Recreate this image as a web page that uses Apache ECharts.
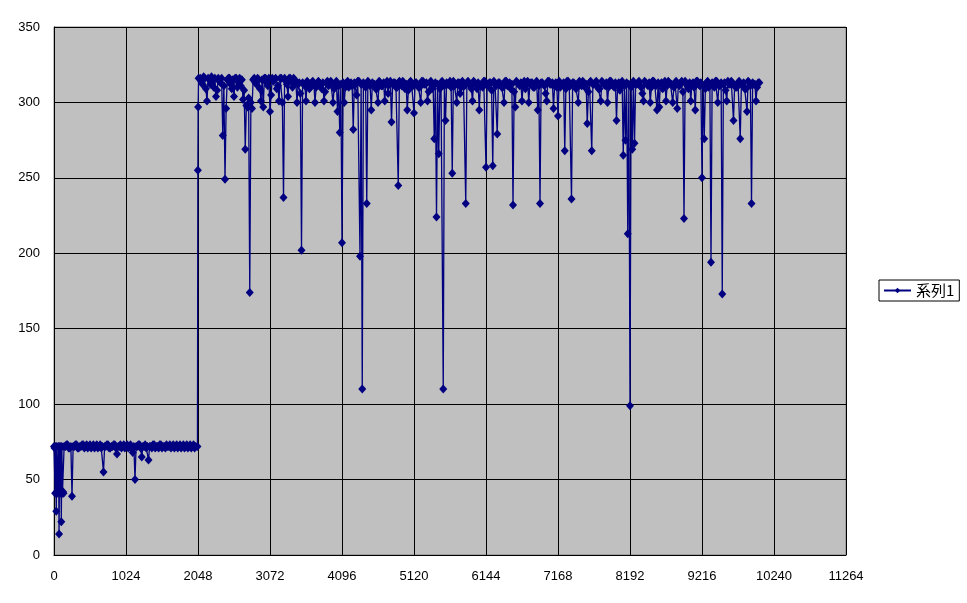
<!DOCTYPE html>
<html>
<head>
<meta charset="utf-8">
<script src="https://cdn.jsdelivr.net/npm/echarts@6/dist/echarts.min.js"></script>
<style>
  html, body { margin: 0; padding: 0; background: #ffffff; }
  #chart { width: 967px; height: 603px; }
</style>
</head>
<body>
<div id="chart"></div>
<script>
// ---- data ----
const seriesName = '系列1';
const xMax = 11264;
const xInterval = 1024;
const yMax = 350;
const yInterval = 50;

// start-up cluster (explicit sample numbers)
const startupX = [0, 8, 16, 24, 32, 40, 48, 56, 64, 72, 80, 88, 96, 104, 112, 120, 128, 136, 144];
const startupY = [72, 71, 41, 72, 29, 72, 41, 42, 72, 14, 72, 41, 72, 22, 72, 41, 42, 41, 72];

// idle phase, sampled every 32 samples from sample 160, with a mid-sample 16 later
const sampleStep = 32;
const midOffset = 16;
const idleStart = 160;
const idleY = [
  72, 73, 71, 39, 72, 73, 71, 72, 73, 72,
  71, 73, 72, 71, 73, 72, 71, 55, 72, 73,
  71, 72, 73, 67, 72, 71, 73, 72, 71, 73,
  68, 50, 72, 73, 65, 72, 71, 63, 72, 73,
  71, 72, 73, 71, 72, 73, 72, 71, 73, 72,
  71, 73, 72, 71, 73, 72, 71, 73, 72
];
const idleMid = [
  73, 71, 72, 72, 73, 71, 72, 73, 71, 73,
  72, 71, 73, 72, 71, 73, 72, 72, 73, 71,
  72, 73, 71, 72, 73, 72, 71, 73, 72, 71,
  72, 72, 73, 71, 72, 73, 72, 72, 71, 73,
  72, 71, 73, 72, 71, 72, 73, 72, 71, 73,
  72, 71, 73, 72, 71, 73, 72, 71
];

// step up
const jumpX = [2040, 2046, 2050, 2056];
const jumpY = [72, 255, 297, 316];

// busy phase, sampled every 32 samples from sample 2080, with a mid-sample 16 later
const busyStart = 2080;
const phase2Y = [
  316, 312, 316, 301, 315, 317, 310, 304, 316, 313,
  278, 249, 315, 316, 309, 304, 316, 314, 311, 302,
  269, 297, 174, 296, 316, 312, 315, 301, 297, 316,
  311, 294, 316, 315, 309, 301, 316, 237, 314, 304,
  316, 310, 315
];
const phase2Mid = [
  314, 317, 309, 316, 312, 315, 316, 308, 314, 316,
  311, 296, 316, 312, 315, 316, 310, 316, 315, 308,
  298, 303, 300, 315, 313, 316, 309, 315, 316, 313,
  316, 305, 314, 316, 311, 316, 300, 316, 312, 316,
  314, 316, 313
];
const phase3Y = [
  300, 313, 202, 312, 301, 313, 310,
  314, 300, 312, 313, 309, 301, 313, 311, 314, 300,
  312, 294, 280, 207, 300, 313, 310, 313, 282, 312,
  314, 198, 110, 312, 233, 313, 295, 312, 309, 300,
  313, 311, 301, 314, 312, 287, 313, 310, 245, 312,
  314, 309, 295, 313, 311, 293, 313, 310, 300, 314,
  312, 301, 313, 309, 276, 224, 266, 313, 110, 288,
  312, 314, 253, 311, 300, 313, 310, 312, 233, 314,
  311, 301, 313, 309, 295, 312, 314, 257, 311, 313,
  258, 312, 279, 313, 310, 300, 314, 312, 309, 232,
  297, 313, 311, 301, 314, 312, 300, 313, 310, 312,
  295, 233, 313, 311, 301, 314, 312, 296, 313, 291,
  310, 312, 268, 314, 311, 236, 313, 309, 300, 312,
  314, 310, 286, 313, 268, 312, 314, 309, 301, 313,
  311, 300, 314, 312, 310, 288, 313, 311, 265, 275,
  213, 99, 269, 273, 312, 314, 310, 301, 313, 311,
  300, 314, 312, 295, 297, 313, 310, 301, 314, 312,
  300, 313, 296, 311, 314, 223, 312, 309, 301, 313,
  295, 314, 311, 250, 276, 313, 310, 194, 312, 314,
  300, 311, 173, 313, 301, 312, 314, 288, 310, 313,
  276, 312, 309, 294, 313, 233, 312, 301, 313
];
const phase3Mid = [
  312, 306, 313, 311, 314, 309, 313, 312, 310, 314,
  311, 313, 307, 314, 312, 313, 309, 314, 311, 312,
  313, 310, 314, 312, 311, 313, 305, 314, 312, 313,
  310, 314, 311, 313, 312, 309, 314, 311, 313, 312,
  306, 314, 312, 313, 310, 314, 311, 313, 312, 308,
  314, 311, 313, 312, 310, 314, 312, 313, 307, 314,
  311, 313, 312, 309, 314, 311, 313, 312, 310, 314,
  312, 313, 306, 314, 311, 313, 312, 309, 314, 312,
  313, 311, 310, 314, 312, 313, 308, 314, 311, 313,
  312, 310, 314, 311, 313, 312, 307, 314, 312, 313,
  311, 309, 314, 312, 313, 310, 314, 311, 313, 312,
  306, 314, 312, 313, 311, 310, 314, 312, 313, 309,
  314, 311, 313, 312, 310, 314, 311, 313, 312, 307,
  314, 312, 313, 311, 309, 314, 312, 313, 310, 314,
  311, 313, 312, 308, 314, 311, 313, 312, 310, 314,
  312, 313, 311, 306, 314, 312, 313, 310, 314, 311,
  313, 312, 309, 314, 311, 313, 312, 310, 314, 312,
  313, 307, 314, 311, 313, 312, 310, 314, 312, 313,
  311, 309, 314, 312, 313, 310, 314, 311, 313, 312,
  308, 314, 312, 313, 311, 310, 314, 312, 313, 309,
  314, 311, 313, 312, 310, 313
];

// ---- build series data ----
const points = [];
startupX.forEach((x, i) => points.push([x, startupY[i]]));
idleY.forEach((y, i) => {
  const x = idleStart + i * sampleStep;
  points.push([x, y]);
  if (i < idleMid.length) points.push([x + midOffset, idleMid[i]]);
});
jumpX.forEach((x, i) => points.push([x, jumpY[i]]));
const busyY = phase2Y.concat(phase3Y);
const busyMid = phase2Mid.concat(phase3Mid);
busyY.forEach((y, i) => {
  const x = busyStart + i * sampleStep;
  points.push([x, y]);
  if (i < busyMid.length) points.push([x + midOffset, busyMid[i]]);
});

const navy = '#000080';
const labelFont = 'Liberation Sans';

const chart = echarts.init(document.getElementById('chart'), null, { renderer: 'canvas' });
chart.setOption({
  animation: false,
  backgroundColor: '#ffffff',
  grid: {
    left: 54, top: 27, width: 792, height: 528,
    show: true, backgroundColor: '#c0c0c0', borderColor: '#808080', borderWidth: 1,
    containLabel: false
  },
  legend: {
    left: 879, top: 280,
    orient: 'horizontal',
    backgroundColor: '#ffffff',
    borderColor: '#000000', borderWidth: 1, borderRadius: 0,
    padding: [3, 5, 3, 4],
    itemWidth: 27, itemHeight: 7, itemGap: 5,
    textStyle: { fontFamily: 'Noto Sans CJK JP', fontSize: 15, lineHeight: 15, color: '#000000' },
    data: [seriesName]
  },
  xAxis: {
    type: 'value', min: 0, max: xMax, interval: xInterval,
    axisLine: { show: true, lineStyle: { color: '#000000', width: 1 } },
    axisTick: { show: false },
    axisLabel: { color: '#000000', fontFamily: labelFont, fontSize: 13, margin: 15,
      formatter: v => String(v) },
    splitLine: { show: true, lineStyle: { color: '#000000', width: 1 } }
  },
  yAxis: {
    type: 'value', min: 0, max: yMax, interval: yInterval,
    axisLine: { show: true, lineStyle: { color: '#000000', width: 1 } },
    axisTick: { show: false },
    axisLabel: { color: '#000000', fontFamily: labelFont, fontSize: 13, margin: 14,
      formatter: v => String(v) },
    splitLine: { show: true, lineStyle: { color: '#000000', width: 1 } }
  },
  series: [{
    name: seriesName,
    type: 'line',
    data: points,
    showSymbol: true,
    showAllSymbol: true,
    symbol: 'diamond',
    symbolSize: [8, 9],
    sampling: null,
    lineStyle: { color: navy, width: 1.3 },
    itemStyle: { color: navy, borderWidth: 0 },
    emphasis: { disabled: true }
  }]
});
</script>
</body>
</html>
